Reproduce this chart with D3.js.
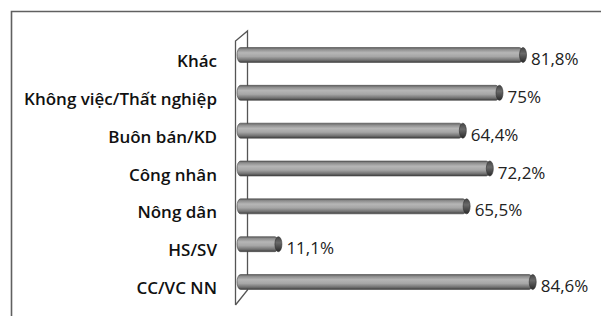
<!DOCTYPE html>
<html>
<head>
<meta charset="utf-8">
<script src="https://cdn.jsdelivr.net/npm/d3@7"></script>
<style>
  body { margin: 0; background: #fff; }
  svg { display: block; }
</style>
</head>
<body>
<div id="chart"></div>
<script>
const categories = ["Khác", "Không việc/Thất nghiệp", "Buôn bán/KD", "Công nhân", "Nông dân", "HS/SV", "CC/VC NN"];
const values = [81.8, 75, 64.4, 72.2, 65.5, 11.1, 84.6];
const valueLabels = ["81,8%", "75%", "64,4%", "72,2%", "65,5%", "11,1%", "84,6%"];

const width = 601;
const height = 316;

const svg = d3.select("#chart")
  .append("svg")
  .attr("width", width)
  .attr("height", height);

// outer frame (only top and left edges show)
svg.append("path")
  .attr("d", "M11.5,316 L11.5,11.5 L601,11.5")
  .attr("fill", "none")
  .attr("stroke", "#606060")
  .attr("stroke-width", 1.6);

const x = d3.scaleLinear().domain([0, 100]).range([240, 586]);
const y = d3.scalePoint().domain(categories).range([55, 282]);

const defs = svg.append("defs");
const grad = defs.append("linearGradient")
  .attr("id", "barGrad")
  .attr("x1", 0).attr("y1", 0).attr("x2", 0).attr("y2", 1);
[[0, "#5a5a5a"], [0.12, "#8c8c8c"], [0.35, "#b6b6b6"], [0.6, "#a6a6a6"], [0.85, "#707070"], [1, "#3c3c3c"]]
  .forEach(s => grad.append("stop").attr("offset", s[0]).attr("stop-color", s[1]));

const capGrad = defs.append("linearGradient")
  .attr("id", "capGrad")
  .attr("x1", 0).attr("y1", 0).attr("x2", 0).attr("y2", 1);
[[0, "#444"], [0.4, "#6a6a6a"], [1, "#2a2a2a"]]
  .forEach(s => capGrad.append("stop").attr("offset", s[0]).attr("stop-color", s[1]));

// 3D wall
svg.append("path")
  .attr("d", "M235.5,305 L235.5,41 L247.5,31 L247.5,290 L235.5,305")
  .attr("fill", "#fff")
  .attr("stroke", "#555")
  .attr("stroke-width", 1.3);

const bh = 15;
const rows = svg.append("g").selectAll("g")
  .data(categories)
  .join("g")
  .attr("transform", d => `translate(0,${y(d)})`);

rows.append("rect")
  .attr("x", x(0) - 3)
  .attr("y", -bh / 2)
  .attr("width", (d, i) => x(values[i]) - x(0) + 3)
  .attr("height", bh)
  .attr("rx", 3.5)
  .attr("ry", bh / 2)
  .attr("fill", "url(#barGrad)")
  .attr("stroke", "#4a4a4a")
  .attr("stroke-width", 0.6);

rows.append("ellipse")
  .attr("cx", (d, i) => x(values[i]))
  .attr("cy", 0)
  .attr("rx", 3.5)
  .attr("ry", bh / 2)
  .attr("fill", "url(#capGrad)")
  .attr("stroke", "#333")
  .attr("stroke-width", 0.6);

rows.append("text")
  .attr("x", 217)
  .attr("y", 12)
  .attr("text-anchor", "end")
  .attr("font-family", "Open Sans, sans-serif")
  .attr("font-weight", 600)
  .attr("font-size", 17)
  .attr("fill", "#111")
  .text(d => d);

rows.append("text")
  .attr("x", (d, i) => x(values[i]) + 8)
  .attr("y", 10)
  .attr("font-family", "Open Sans, sans-serif")
  .attr("font-size", 17)
  .attr("fill", "#222")
  .text((d, i) => valueLabels[i]);
</script>
</body>
</html>
